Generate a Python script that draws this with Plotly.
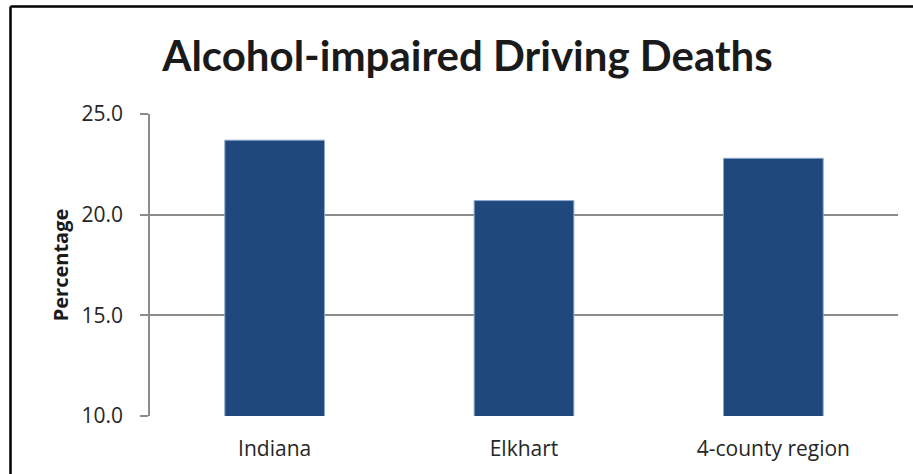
import plotly.graph_objects as go

categories = ["Indiana", "Elkhart", "4-county region"]
values = [23.7, 20.7, 22.8]
y_ticks = [10.0, 15.0, 20.0, 25.0]
y_tick_labels = ["10.0", "15.0", "20.0", "25.0"]

W, H = 913, 474
L, R, T, B = 150, 15, 114, 58
pw = W - L - R
ph = H - T - B

def px_x(x):
    return (x - L) / pw

def px_y(y):
    return (H - B - y) / ph

fig = go.Figure()
fig.add_trace(go.Bar(
    x=categories, y=values, width=0.4,
    marker=dict(color="#1F497D", line=dict(color="#8EA9CF", width=1)),
))

fig.update_layout(
    width=W, height=H,
    margin=dict(l=L, r=R, t=T, b=B),
    paper_bgcolor="white", plot_bgcolor="white",
    showlegend=False,
    font=dict(family="Open Sans", color="#262626"),
    title=dict(
        text="<b>Alcohol-impaired Driving Deaths</b>",
        x=467.5 / W, xanchor="center",
        y=1 - 56 / H, yanchor="middle",
        font=dict(size=42, color="#1a1a1a", family="Lato"),
    ),
    bargap=0.6,
)
fig.update_xaxes(
    showline=False, showgrid=False, ticks="",
    tickfont=dict(size=21, color="#262626"),
    ticklabelstandoff=18,
)
fig.update_yaxes(
    range=[10, 25], tickvals=y_ticks, ticktext=y_tick_labels,
    showgrid=True, gridcolor="#8c8c8c", gridwidth=1.5,
    showline=True, linecolor="#8c8c8c", linewidth=1.5,
    ticks="outside", ticklen=8, tickcolor="#8c8c8c", tickwidth=1.5,
    tickfont=dict(size=21, color="#262626"),
    ticklabelstandoff=13,
    title=dict(text="<b>Percentage</b>", font=dict(size=20, color="#1a1a1a"), standoff=8),
    zeroline=False,
)

# outer frame (left and top edges visible in the reference)
fig.add_shape(type="line", xref="paper", yref="paper",
              x0=px_x(10.5), x1=px_x(10.5), y0=px_y(6.5), y1=px_y(480),
              line=dict(color="black", width=2.5))
fig.add_shape(type="line", xref="paper", yref="paper",
              x0=px_x(10.5), x1=px_x(920), y0=px_y(6.5), y1=px_y(6.5),
              line=dict(color="black", width=2.5))

fig.write_html(
    "out.html",
    config={"displayModeBar": False},
    post_script="document.body.style.margin='0';document.body.style.overflow='hidden';",
)
